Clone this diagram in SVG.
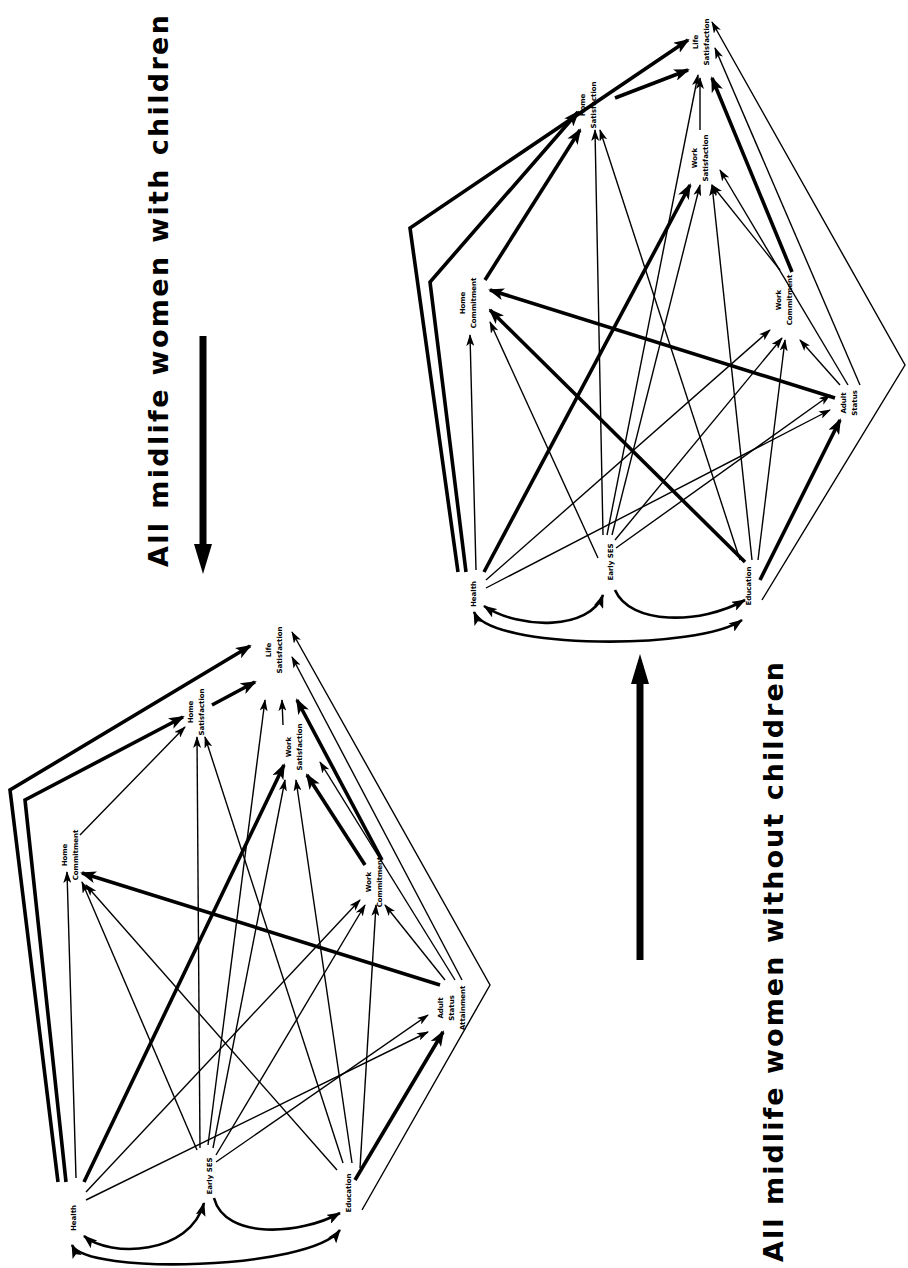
<svg xmlns="http://www.w3.org/2000/svg" width="908" height="1268" viewBox="0 0 908 1268">
<style>
.bg{fill:#fff}
.t{stroke:#000;stroke-width:1.4;fill:none;marker-end:url(#a)}
.k{stroke:#000;stroke-width:3.6;fill:none;marker-end:url(#A)}
.c{stroke:#000;stroke-width:2.6;fill:none}
.n{font-family:"DejaVu Sans",sans-serif;font-weight:bold;font-size:7px;text-anchor:middle}
.ttl{font-family:"DejaVu Sans",sans-serif;font-weight:bold;font-size:27px;text-anchor:middle}
</style>
<defs>
<marker id="a" viewBox="0 0 12 8" refX="11" refY="4" markerWidth="12" markerHeight="8" markerUnits="userSpaceOnUse" orient="auto"><path d="M0,0 L12,4 L0,8 L3,4 z"/></marker>
<marker id="A" viewBox="0 0 16 12" refX="14" refY="6" markerWidth="16" markerHeight="12" markerUnits="userSpaceOnUse" orient="auto"><path d="M0,0 L16,6 L0,12 L4,6 z"/></marker>
<marker id="C" viewBox="0 0 14 10" refX="13" refY="5" markerWidth="14" markerHeight="10" markerUnits="userSpaceOnUse" orient="auto-start-reverse"><path d="M0,0 L14,5 L0,10 L3,5 z"/></marker>
</defs>
<rect class="bg" width="908" height="1268"/>

<g id="titles">
<text class="ttl" transform="translate(168,291) rotate(-90)" textLength="552" lengthAdjust="spacing">All midlife women with children</text>
<text class="ttl" transform="translate(783,962) rotate(-90)" textLength="600" lengthAdjust="spacing">All midlife women without children</text>
<path d="M203,336 V548" stroke="#000" stroke-width="7" fill="none"/>
<path d="M194,544 L203,574 L212,544 z"/>
<path d="M640,960 V680" stroke="#000" stroke-width="7" fill="none"/>
<path d="M631,684 L640,654 L649,684 z"/>
</g>

<g id="connectors-children">
<path class="k" d="M58,1182 L10,790 L250,646"/>
<path class="k" d="M66,1182 L25,800 L183,717"/>
<path class="t" d="M76,1178 L67,872"/>
<path class="k" d="M84,1182 L284,765"/>
<path class="t" d="M86,1192 L360,900"/>
<path class="t" d="M86,1200 L428,1032"/>
<path class="t" d="M197,1150 L82,882"/>
<path class="t" d="M200,1148 L197,737"/>
<path class="t" d="M208,1145 L265,700"/>
<path class="t" d="M213,1148 L285,780"/>
<path class="t" d="M216,1155 L365,905"/>
<path class="t" d="M216,1162 L428,1015"/>
<path class="t" d="M337,1170 L86,885"/>
<path class="t" d="M343,1163 L205,737"/>
<path class="t" d="M352,1163 L296,780"/>
<path class="t" d="M360,1168 L376,905"/>
<path class="k" d="M355,1180 L443,1032"/>
<path class="t" d="M362,1210 L490,985 L292,632"/>
<path class="k" d="M440,985 L82,873"/>
<path class="t" d="M445,980 L385,905"/>
<path class="t" d="M455,980 L320,762"/>
<path class="t" d="M462,980 L292,657"/>
<path class="k" d="M365,865 L307,775"/>
<path class="k" d="M382,860 L297,700"/>
<path class="t" d="M283,725 L282,700"/>
<path class="t" d="M80,835 L185,727"/>
<path class="k" d="M212,705 L255,682"/>
<path class="c" d="M84,1236 C110,1258 190,1255 204,1203" marker-start="url(#C)" marker-end="url(#C)"/>
<path class="c" d="M214,1198 C225,1240 300,1235 340,1213" marker-end="url(#C)"/>
<path class="c" d="M72,1245 C85,1275 310,1270 340,1230" marker-start="url(#C)" marker-end="url(#C)"/>
</g>

<g id="connectors-nochildren">
<path class="k" d="M458,572 L410,228 L688,40"/>
<path class="k" d="M466,572 L430,282 L578,112"/>
<path class="t" d="M476,570 L470,335"/>
<path class="k" d="M484,572 L690,185"/>
<path class="t" d="M486,580 L770,330"/>
<path class="t" d="M486,588 L830,410"/>
<path class="t" d="M598,558 L490,322"/>
<path class="t" d="M603,535 L595,130"/>
<path class="t" d="M607,535 L698,75"/>
<path class="t" d="M612,535 L700,185"/>
<path class="t" d="M615,540 L782,338"/>
<path class="t" d="M616,548 L830,395"/>
<path class="k" d="M745,562 L490,310"/>
<path class="t" d="M740,560 L600,130"/>
<path class="t" d="M752,560 L712,185"/>
<path class="t" d="M758,560 L785,340"/>
<path class="k" d="M760,580 L840,420"/>
<path class="t" d="M762,600 L905,365 L712,22"/>
<path class="k" d="M835,398 L490,290"/>
<path class="t" d="M840,385 L800,340"/>
<path class="t" d="M848,385 L720,170"/>
<path class="t" d="M860,385 L715,48"/>
<path class="k" d="M792,272 L712,78"/>
<path class="t" d="M780,270 L712,185"/>
<path class="t" d="M700,130 L700,78"/>
<path class="k" d="M485,280 L580,130"/>
<path class="k" d="M615,98 L688,70"/>
<path class="c" d="M484,606 C520,630 590,630 603,595" marker-start="url(#C)" marker-end="url(#C)"/>
<path class="c" d="M615,590 C630,625 700,625 745,600" marker-end="url(#C)"/>
<path class="c" d="M474,612 C490,650 700,650 742,620" marker-start="url(#C)" marker-end="url(#C)"/>
</g>

<g id="n-c-health"><text class="n" transform="translate(76,1218) rotate(-90)">Health</text></g>
<g id="n-c-ses"><text class="n" transform="translate(212,1176) rotate(-90)">Early SES</text></g>
<g id="n-c-edu"><text class="n" transform="translate(351,1193) rotate(-90)">Education</text></g>
<g id="n-c-adult"><text class="n" transform="translate(443,1008) rotate(-90)"><tspan x="0" y="0">Adult</tspan><tspan x="0" y="11">Status</tspan><tspan x="0" y="22">Attainment</tspan></text></g>
<g id="n-c-wc"><text class="n" transform="translate(371,882) rotate(-90)"><tspan x="0" y="0">Work</tspan><tspan x="0" y="11">Commitment</tspan></text></g>
<g id="n-c-ws"><text class="n" transform="translate(291,747) rotate(-90)"><tspan x="0" y="0">Work</tspan><tspan x="0" y="11">Satisfaction</tspan></text></g>
<g id="n-c-hc"><text class="n" transform="translate(67,855) rotate(-90)"><tspan x="0" y="0">Home</tspan><tspan x="0" y="11">Commitment</tspan></text></g>
<g id="n-c-hs"><text class="n" transform="translate(193,712) rotate(-90)"><tspan x="0" y="0">Home</tspan><tspan x="0" y="11">Satisfaction</tspan></text></g>
<g id="n-c-ls"><text class="n" transform="translate(271,650) rotate(-90)"><tspan x="0" y="0">Life</tspan><tspan x="0" y="11">Satisfaction</tspan></text></g>

<g id="n-n-health"><text class="n" transform="translate(476,594) rotate(-90)">Health</text></g>
<g id="n-n-ses"><text class="n" transform="translate(613,562) rotate(-90)">Early SES</text></g>
<g id="n-n-edu"><text class="n" transform="translate(751,586) rotate(-90)">Education</text></g>
<g id="n-n-adult"><text class="n" transform="translate(846,403) rotate(-90)"><tspan x="0" y="0">Adult</tspan><tspan x="0" y="11">Status</tspan></text></g>
<g id="n-n-wc"><text class="n" transform="translate(781,300) rotate(-90)"><tspan x="0" y="0">Work</tspan><tspan x="0" y="11">Commitment</tspan></text></g>
<g id="n-n-ws"><text class="n" transform="translate(697,158) rotate(-90)"><tspan x="0" y="0">Work</tspan><tspan x="0" y="11">Satisfaction</tspan></text></g>
<g id="n-n-hc"><text class="n" transform="translate(465,303) rotate(-90)"><tspan x="0" y="0">Home</tspan><tspan x="0" y="11">Commitment</tspan></text></g>
<g id="n-n-hs"><text class="n" transform="translate(585,105) rotate(-90)"><tspan x="0" y="0">Home</tspan><tspan x="0" y="11">Satisfaction</tspan></text></g>
<g id="n-n-ls"><text class="n" transform="translate(698,42) rotate(-90)"><tspan x="0" y="0">Life</tspan><tspan x="0" y="11">Satisfaction</tspan></text></g>
</svg>
